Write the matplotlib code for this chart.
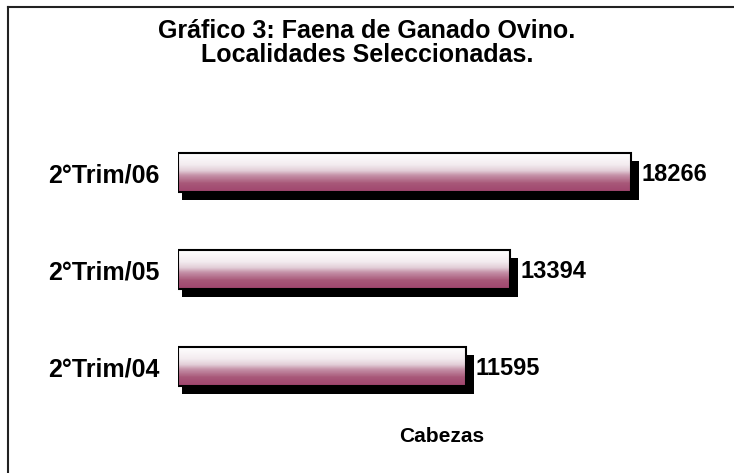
import matplotlib
matplotlib.use('Agg')
import matplotlib.pyplot as plt
import numpy as np
from matplotlib.colors import LinearSegmentedColormap
from matplotlib.patches import Rectangle
from matplotlib.lines import Line2D
from matplotlib.transforms import offset_copy

plt.rcParams['font.family'] = ['Liberation Sans', 'DejaVu Sans']

# datos
periodos = ['2°Trim/04', '2°Trim/05', '2°Trim/06']
cabezas = [11595, 13394, 18266]
titulo_1 = 'Gráfico 3: Faena de Ganado Ovino.'
titulo_2 = 'Localidades Seleccionadas.'
eje_x = 'Cabezas'

W, H = 734, 473
fig = plt.figure(figsize=(W / 100, H / 100), dpi=100)

xmax = 21000
px_por_unidad = 0.02482
ax = fig.add_axes([178 / W, (H - 415) / H, xmax * px_por_unidad / W, 291 / H])
ax.set_xlim(0, xmax)
ax.set_ylim(-0.5, 2.5)

# degradado blanco -> granate
cmap = LinearSegmentedColormap.from_list('granate', [
    (0.0, '#ffffff'), (0.3, '#f3ebef'), (0.45, '#e2ced7'),
    (0.58, '#c48fa6'), (0.78, '#a85879'), (1.0, '#a0466e')])
grad = np.linspace(0, 1, 64).reshape(-1, 1)

alto = 0.40
sombra_dx = 4 / px_por_unidad
sombra = offset_copy(ax.transData, fig, x=4, y=-8, units='dots')
for i, v in enumerate(cabezas):
    y0 = i - alto / 2
    ax.add_patch(Rectangle((0, y0), v + sombra_dx, alto, facecolor='black',
                           edgecolor='none', transform=sombra, zorder=1))
    ax.imshow(grad, cmap=cmap, aspect='auto', extent=[0, v, y0, y0 + alto],
              zorder=2, interpolation='bilinear')
    ax.add_patch(Rectangle((0, y0), v, alto, facecolor='none',
                           edgecolor='black', linewidth=1.5, zorder=3))
    ax.annotate(str(v), xy=(v, i), xytext=(10, -2), textcoords='offset pixels',
                ha='left', va='center', fontsize=17, fontweight='bold')

ax.set_xlim(0, xmax)
ax.set_ylim(-0.5, 2.5)
ax.set_yticks(range(len(periodos)))
ax.set_yticklabels(periodos, fontsize=18, fontweight='bold')
ax.tick_params(axis='y', length=0, pad=13)
ax.set_xticks([])
for s in ax.spines.values():
    s.set_visible(False)

fig.text(0.5, 1 - 38 / H, titulo_1, ha='center', va='baseline',
         fontsize=18, fontweight='bold')
fig.text(0.5, 1 - 62 / H, titulo_2, ha='center', va='baseline',
         fontsize=18, fontweight='bold')
fig.text(442 / W, 1 - 442 / H, eje_x, ha='center', va='baseline',
         fontsize=15, fontweight='bold')

# marco (solo izquierda y arriba visibles)
fig.add_artist(Line2D([8 / W, 8 / W], [0, 1 - 7 / H], transform=fig.transFigure,
                      color='#222222', linewidth=1.5))
fig.add_artist(Line2D([8 / W, 1], [1 - 7 / H, 1 - 7 / H], transform=fig.transFigure,
                      color='#222222', linewidth=1.5))

fig.savefig('out.png', dpi=100)
